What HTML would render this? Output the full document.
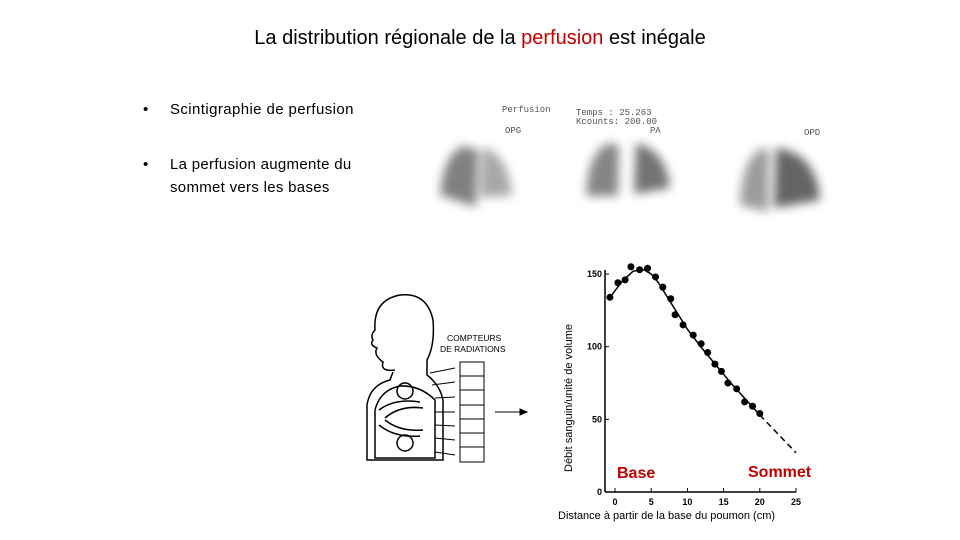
<!DOCTYPE html>
<html><head><meta charset="utf-8"><style>
body{margin:0;width:960px;height:540px;background:#fff;font-family:"Liberation Sans",sans-serif;position:relative;overflow:hidden}
.t{position:absolute;white-space:nowrap}
</style></head><body>
<div class="t" style="left:0;width:960px;text-align:center;top:27px;font-size:20px;font-family:'Liberation Sans',sans-serif;color:#000">La distribution régionale de la <span style="color:#c00000">perfusion</span> est inégale</div>
<div class="t" style="left:143px;top:101px;font-size:15px;letter-spacing:0.4px">•<span style="position:absolute;left:27px">Scintigraphie de perfusion</span></div>
<div class="t" style="left:143px;top:153px;font-size:15px;line-height:23px;letter-spacing:0.3px">•<span style="position:absolute;left:27px">La perfusion augmente du<br>sommet vers les bases</span></div>

<svg style="position:absolute;left:0;top:0" width="960" height="540">
<defs><filter id="bl" x="-40%" y="-40%" width="180%" height="180%"><feGaussianBlur stdDeviation="5"/></filter></defs>
<g font-family="Liberation Mono,monospace" font-size="9" fill="#555">
<text x="502" y="112">Perfusion</text><text x="505" y="133">OPG</text>
<text x="576" y="115">Temps  : 25.263</text><text x="576" y="124">Kcounts: 200.00</text>
<text x="650" y="133">PA</text><text x="804" y="135">OPD</text></g>
<g filter="url(#bl)" opacity="0.85">
<path d="M464,146 Q444,152 440,195 L476,207 L478,150Z" fill="#6a6a6a"/>
<path d="M482,148 Q508,152 512,196 L480,197Z" fill="#999"/>
<path d="M610,143 Q588,150 586,196 L618,196 L619,146Z" fill="#707070"/>
<path d="M636,143 Q666,150 670,188 L634,194Z" fill="#5a5a5a"/>
<path d="M764,148 Q742,155 740,205 L768,212 L769,150Z" fill="#8a8a8a"/>
<path d="M776,148 Q816,152 820,200 L774,208Z" fill="#4a4a4a"/>
</g></svg>

<svg style="position:absolute;left:355px;top:290px" width="200" height="180" fill="none" stroke="#000" stroke-width="1.5">
<path d="M40,80 Q25,82 28,72 Q18,65 22,58 Q14,55 18,50 Q15,45 20,40 Q18,10 45,5 Q72,2 78,30 Q80,55 72,70 L72,85 Q85,95 88,110 L88,170 L12,170 L12,115 Q15,95 35,90 L38,82"/>
<path d="M20,168 L20,120 Q25,100 45,96 Q65,95 80,110 L80,168Z"/>
<circle cx="50" cy="101" r="8"/><circle cx="50" cy="153" r="8"/>
<path d="M24,120 Q40,108 65,112 M30,128 Q45,115 68,118"/>
<path d="M24,135 Q40,148 65,146 M30,130 Q45,142 68,140"/>
<g stroke-width="1"><rect x="105" y="72" width="24" height="100"/>
<path d="M105,86H129M105,100H129M105,115H129M105,129H129M105,143H129M105,157H129"/>
<path d="M75,83L100,78M77,95L100,92M80,108L100,107M80,122L100,122M80,135L100,136M80,148L100,150M80,162L100,165"/>
<path d="M140,122H172"/><path d="M172,122L165,119L165,125Z" fill="#000"/></g>
<text x="92" y="51" font-size="8.5" fill="#000" stroke="none" font-family="Liberation Sans,sans-serif">COMPTEURS</text>
<text x="85" y="62" font-size="8.5" fill="#000" stroke="none" font-family="Liberation Sans,sans-serif">DE RADIATIONS</text>
</svg>

<svg id="chart" style="position:absolute;left:0;top:0" width="960" height="540"></svg>
<script>
const xTicks=[0,5,10,15,20,25];
const yTicks=[0,50,100,150];
const pointX=[-0.7,0.4,1.4,2.2,3.4,4.5,5.6,6.6,7.7,8.3,9.4,10.8,11.9,12.8,13.8,14.7,15.6,16.8,17.9,19.0,20.0];
const pointY=[134,144,146,155,153,154,148,141,133,122,115,108,102,96,88,83,75,71,62,59,54];
const fitX=[-0.7,1,2.5,4,5,6,8,10,12,14,16,18,20];
const fitY=[134,145,152,153,150,144,128,112,99,87,75,64,53];
const dashX=[20,25];
const dashY=[53,27];
const sx=v=>615+v*7.24, sy=v=>492-v*1.453;
const svg=document.getElementById('chart'),NS='http://www.w3.org/2000/svg';
function el(t,a,p){const e=document.createElementNS(NS,t);for(const k in a)e.setAttribute(k,a[k]);(p||svg).appendChild(e);return e;}
let e=el('line',{x1:605,y1:sy(0),x2:605,y2:270,stroke:'#000','stroke-width':1.5});


e=el('line',{x1:605,y1:sy(0),x2:sx(25),y2:sy(0),stroke:'#000','stroke-width':1.5});


xTicks.forEach(v=>{
 el('line',{x1:sx(v),y1:sy(0),x2:sx(v),y2:sy(0)-4,stroke:'#000'});
 const t=el('text',{x:sx(v),y:505,'font-size':9,'font-weight':'bold','text-anchor':'middle','font-family':'Liberation Sans,sans-serif'});t.textContent=v;
 
 
});
yTicks.forEach(v=>{
 el('line',{x1:605,y1:sy(v),x2:609,y2:sy(v),stroke:'#000'});
 const t=el('text',{x:602,y:sy(v)+3,'font-size':9,'font-weight':'bold','text-anchor':'end','font-family':'Liberation Sans,sans-serif'});t.textContent=v;
 
 
});
e=el('path',{d:fitX.map((x,i)=>(i?'L':'M')+sx(x)+','+sy(fitY[i])).join(''),fill:'none',stroke:'#000','stroke-width':1.5,'stroke-linejoin':'round'});


e=el('path',{d:dashX.map((x,i)=>(i?'L':'M')+sx(x)+','+sy(dashY[i])).join(''),fill:'none',stroke:'#000','stroke-width':1.5,'stroke-dasharray':'6,4'});


pointX.forEach((x,i)=>{
 const c=el('circle',{cx:sx(x),cy:sy(pointY[i]),r:3.5,fill:'#000'});
 
 
});
e=el('text',{x:572,y:472,'font-size':11,transform:'rotate(-90 572 472)','font-family':'Liberation Sans,sans-serif'});e.textContent='Débit sanguin/unité de volume';


e=el('text',{x:558,y:519,'font-size':11,'font-family':'Liberation Sans,sans-serif'});e.textContent='Distance à partir de la base du poumon (cm)';


e=el('text',{x:617,y:478,'font-size':16,'font-weight':'bold',fill:'#c00000','font-family':'Liberation Sans,sans-serif'});e.textContent='Base';


e=el('text',{x:748,y:477,'font-size':16,'font-weight':'bold',fill:'#c00000','font-family':'Liberation Sans,sans-serif'});e.textContent='Sommet';


</script>
</body></html>
